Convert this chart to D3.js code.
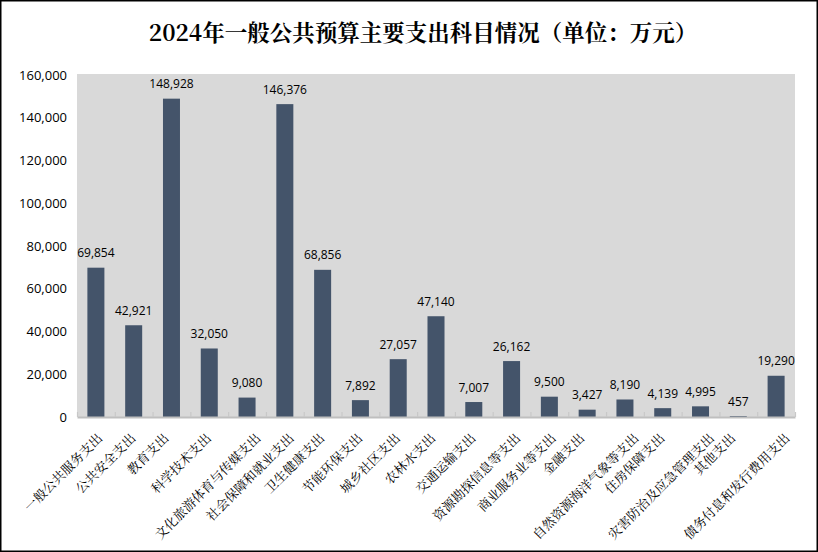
<!DOCTYPE html>
<html><head><meta charset="utf-8">
<script src="https://cdn.jsdelivr.net/npm/d3@7"></script>
<style>
html,body{margin:0;padding:0;background:#fff;}
svg{display:block;}
</style></head>
<body>
<svg id="chart" width="818" height="552"></svg>
<script>
const title = "2024年一般公共预算主要支出科目情况（单位：万元）";
const categories = ["一般公共服务支出","公共安全支出","教育支出","科学技术支出","文化旅游体育与传媒支出","社会保障和就业支出","卫生健康支出","节能环保支出","城乡社区支出","农林水支出","交通运输支出","资源勘探信息等支出","商业服务业等支出","金融支出","自然资源海洋气象等支出","住房保障支出","灾害防治及应急管理支出","其他支出","债务付息和发行费用支出"];
const values = [69854,42921,148928,32050,9080,146376,68856,7892,27057,47140,7007,26162,9500,3427,8190,4139,4995,457,19290];
const yTicks = [0,20000,40000,60000,80000,100000,120000,140000,160000];

const W = 818, H = 552;
const svg = d3.select("#chart");
const plot = {left:77, right:795, top:75, bottom:417};

svg.append("rect").attr("x",0.75).attr("y",0.75).attr("width",W-1.5).attr("height",H-1.5)
  .attr("fill","#fff").attr("stroke","#000").attr("stroke-width",1.5);

svg.append("text").attr("x",423).attr("y",41).attr("text-anchor","middle")
  .attr("font-family","'Noto Serif CJK SC','Noto Sans CJK SC',serif").attr("font-weight","bold")
  .attr("font-size","22.5px").attr("fill","#000").text(title);

const x = d3.scaleBand().domain(categories).range([plot.left, plot.right]).paddingInner(0.55).paddingOuter(0.275);
const xi = d3.scaleLinear().domain([0, categories.length]).range([plot.left, plot.right]);
const y = d3.scaleLinear().domain([0,160000]).range([plot.bottom, plot.top]);

svg.append("rect").attr("x",plot.left).attr("y",plot.top-1).attr("width",plot.right-plot.left)
  .attr("height",plot.bottom-plot.top+1).attr("fill","#d9d9d9");

svg.selectAll("rect.bar").data(values).join("rect").attr("class","bar")
  .attr("x",(d,i)=>x(categories[i])).attr("width",x.bandwidth())
  .attr("y",d=>y(d)).attr("height",d=>plot.bottom-y(d)).attr("fill","#44546a");

const fmt = d3.format(",");
svg.selectAll("text.val").data(values).join("text").attr("class","val")
  .attr("x",(d,i)=>x(categories[i])+x.bandwidth()/2).attr("y",d=>y(d)-10.5)
  .attr("text-anchor","middle").attr("font-family","'Open Sans',sans-serif").attr("font-size","12px")
  .attr("fill","#000").text(d=>fmt(d));

// y axis labels
const ya = svg.append("g").attr("transform",`translate(${plot.left-10},0)`)
  .call(d3.axisLeft(y).tickValues(yTicks).tickSize(0).tickPadding(0).tickFormat(fmt));
ya.select(".domain").remove();
ya.selectAll("text").attr("font-family","'Open Sans',sans-serif").attr("font-size","13px").attr("fill","#000");

// x axis boundary ticks
const xa = svg.append("g").attr("transform",`translate(0,${plot.bottom})`)
  .call(d3.axisBottom(xi).tickValues(d3.range(categories.length+1)).tickSize(-5).tickSizeOuter(0).tickFormat(""));
xa.select(".domain").attr("stroke","#bfbfbf").attr("stroke-width",2);
xa.selectAll(".tick line").attr("stroke","#c8c8c8").attr("stroke-width",1.2);

// rotated category labels
svg.selectAll("text.cat").data(categories).join("text").attr("class","cat")
  .attr("transform",(d)=>{
    const cx = x(d)+x.bandwidth()/2 + 2.36*d.length - 11.5;
    return `translate(${cx},439) rotate(-45)`;
  })
  .attr("text-anchor","end").attr("font-family","'Noto Serif CJK SC','Noto Sans CJK SC',serif")
  .attr("font-size","13px").attr("fill","#000").text(d=>d);
</script>
</body></html>
